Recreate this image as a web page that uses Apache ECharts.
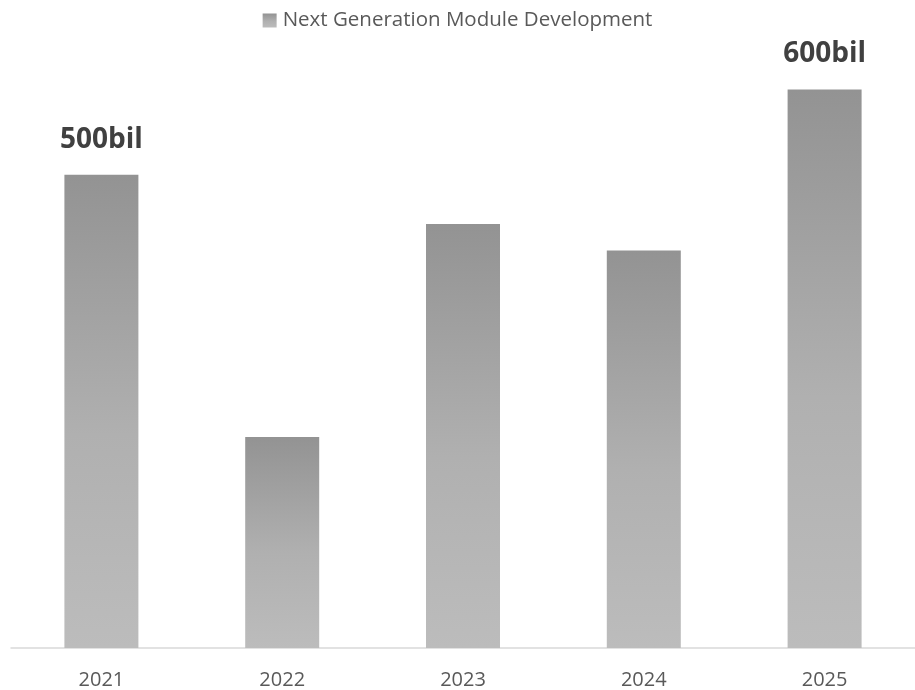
<!DOCTYPE html>
<html>
<head>
<meta charset="utf-8">
<script src="https://cdn.jsdelivr.net/npm/echarts@6/dist/echarts.min.js"></script>
<style>html,body{margin:0;padding:0;background:#fff;}#c{width:915px;height:690px;}</style>
</head>
<body>
<div id="c"></div>
<script>
var categories = ["2021", "2022", "2023", "2024", "2025"];
var values = [500, 223, 448, 420, 590];
var valueLabels = ["500bil", "", "", "", "600bil"];
var seriesName = "Next Generation Module Development";

var grad = new echarts.graphic.LinearGradient(0, 0, 0, 1, [
  {offset: 0, color: "#939393"},
  {offset: 0.55, color: "#b0b0b0"},
  {offset: 1, color: "#bcbcbc"}
]);
var chart = echarts.init(document.getElementById("c"), null, {renderer: "canvas"});
chart.setOption({
  animation: false,
  backgroundColor: "#ffffff",
  legend: {
    top: 5, left: "center",
    itemWidth: 14, itemHeight: 14, itemGap: 6,
    icon: "rect",
    textStyle: {color: "#595959", fontSize: 20.5, fontFamily: "Open Sans", padding: [0, 0, 0, 1]},
    data: [seriesName]
  },
  grid: {left: 11, top: 80, width: 910, height: 568},
  xAxis: {
    type: "category", data: categories,
    axisLine: {lineStyle: {color: "#d9d9d9", width: 1.5}},
    axisTick: {show: false},
    axisLabel: {color: "#595959", fontSize: 20, fontFamily: "Open Sans", margin: 22}
  },
  yAxis: {type: "value", min: 0, max: 600, show: false, splitLine: {show: false}},
  series: [{
    name: seriesName, type: "bar", data: values,
    barWidth: 74,
    itemStyle: {color: grad},
    label: {
      show: true, position: "top", distance: 21,
      color: "#404040", fontSize: 28, fontWeight: "bold", fontFamily: "Open Sans",
      formatter: function(p){ return valueLabels[p.dataIndex]; }
    }
  }]
});
</script>
</body>
</html>
